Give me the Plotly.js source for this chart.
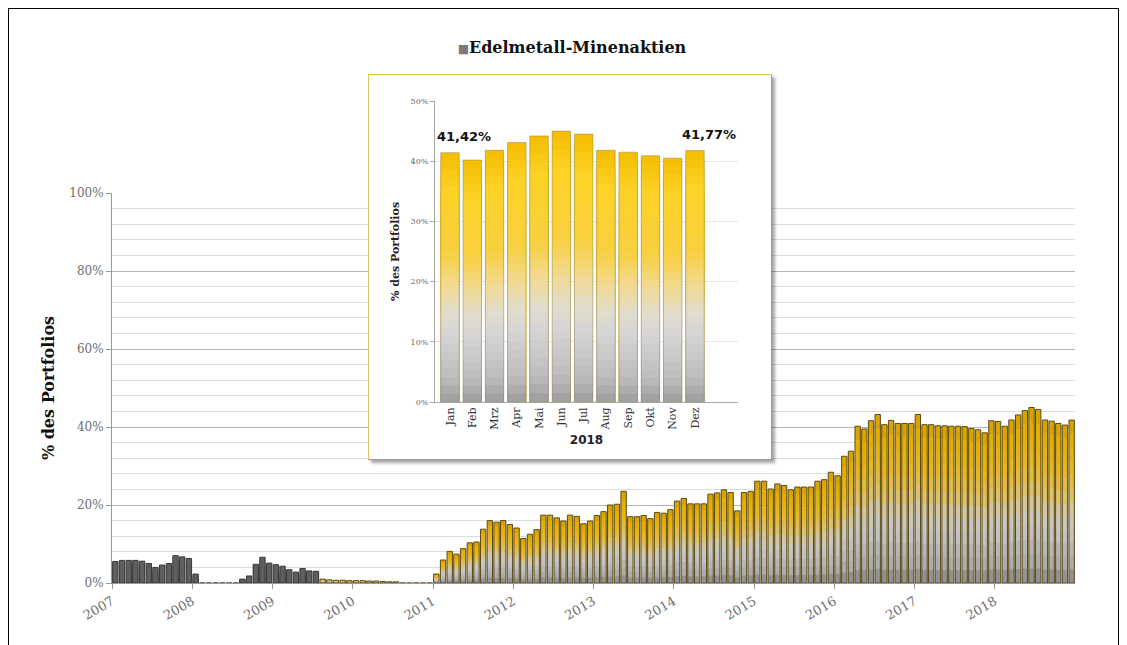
<!DOCTYPE html>
<html>
<head>
<meta charset="utf-8">
<script src="https://cdn.plot.ly/plotly-3.0.1.min.js"></script>
<style>
  html, body { margin:0; padding:0; background:#ffffff; }
  #main { position:absolute; left:0; top:0; width:1127px; height:645px; }
  #frame { position:absolute; left:8px; top:8px; width:1109px; height:700px; border:1px solid #000; pointer-events:none; }
  #inset { position:absolute; left:368px; top:74px; width:402px; height:384px; background:#fff;
           border-top:1px solid #e3c35a; border-left:1px solid #e3c35a; border-right:1px solid #9a9a9a; border-bottom:1px solid #9a9a9a;
           box-shadow:3px 3px 3px rgba(0,0,0,0.35); }
</style>
</head>
<body>
<div id="main"></div>
<div id="frame"></div>
<div id="inset"></div>
<script>
// ---------------- data (percent of portfolio, monthly) ----------------
const years = [2007, 2008, 2009, 2010, 2011, 2012, 2013, 2014, 2015, 2016, 2017, 2018];
const v2007 = [5.5, 5.8, 5.8, 5.8, 5.6, 5.0, 4.0, 4.6, 5.0, 7.0, 6.7, 6.3];
const v2008 = [2.3, 0, 0, 0, 0, 0, 0, 1.0, 1.8, 4.8, 6.6, 5.1];
const v2009 = [4.7, 4.3, 3.4, 2.8, 3.7, 3.1, 3.0, 1.0, 0.8, 0.7, 0.7, 0.6];
const v2010 = [0.6, 0.6, 0.5, 0.5, 0.4, 0.3, 0.3, 0, 0, 0, 0, 0];
const v2011 = [2.3, 5.9, 8.1, 7.4, 8.8, 10.3, 10.5, 13.8, 16.0, 15.6, 16.0, 15.0];
const v2012 = [14.1, 11.4, 12.5, 13.7, 17.4, 17.4, 16.7, 15.9, 17.4, 17.1, 15.2, 15.9];
const v2013 = [17.3, 18.3, 20.0, 20.2, 23.5, 17.0, 17.0, 17.3, 16.5, 18.1, 17.9, 18.8];
const v2014 = [21.0, 21.7, 20.3, 20.3, 20.3, 22.8, 23.1, 23.9, 23.2, 18.5, 23.2, 23.5];
const v2015 = [26.1, 26.1, 24.1, 25.4, 25.0, 23.9, 24.6, 24.6, 24.6, 26.1, 26.5, 28.4];
const v2016 = [27.5, 32.5, 33.8, 40.2, 39.5, 41.6, 43.2, 40.6, 41.7, 40.9, 40.9, 40.9];
const v2017 = [43.2, 40.6, 40.6, 40.3, 40.3, 40.2, 40.2, 40.1, 39.6, 39.3, 38.5, 41.6];
const v2018 = [41.42, 40.2, 41.8, 43.1, 44.2, 45.0, 44.5, 41.8, 41.5, 40.9, 40.5, 41.77];
const months2018 = ['Jan', 'Feb', 'Mrz', 'Apr', 'Mai', 'Jun', 'Jul', 'Aug', 'Sep', 'Okt', 'Nov', 'Dez'];
const seriesName = 'Edelmetall-Minenaktien';
const grayMonths = 31; // Jan 2007 .. Jul 2009 drawn in dark grey

// ---------------- helpers ----------------
function hexToRgb(h) { h = h.replace('#', ''); return [parseInt(h.substr(0,2),16), parseInt(h.substr(2,2),16), parseInt(h.substr(4,2),16)]; }
function colorAt(stops, f) {
  for (let i = 1; i < stops.length; i++) {
    if (f <= stops[i][0]) {
      const a = stops[i-1], b = stops[i];
      const t = (f - a[0]) / (b[0] - a[0]);
      const ca = hexToRgb(a[1]), cb = hexToRgb(b[1]);
      const c = ca.map((x, j) => Math.round(x + (cb[j] - x) * t));
      return 'rgb(' + c.join(',') + ')';
    }
  }
  return stops[stops.length-1][1];
}
function gradientBars(xs, ys, n, stops, width, perPointOverride) {
  const out = [];
  for (let k = 0; k < n; k++) {
    const frac = (n - k) / n;
    const col = colorAt(stops, (n - k - 0.5) / n);
    out.push({
      type: 'bar', x: xs, y: ys.map(v => v * frac), width: width,
      marker: { color: perPointOverride ? ys.map((v, i) => perPointOverride(i) || col) : col, line: { width: 0 } },
      hoverinfo: 'skip', showlegend: false
    });
  }
  return out;
}

// ---------------- main chart ----------------
const values = [].concat(v2007, v2008, v2009, v2010, v2011, v2012, v2013, v2014, v2015, v2016, v2017, v2018);
const xs = values.map((v, i) => i + 0.5);
const mainStops = [[0, '#7c7c7c'], [0.08, '#a6a6a6'], [0.3, '#c2c2c2'], [0.42, '#cdc8bc'], [0.55, '#dfbf62'], [0.7, '#e6b722'], [0.88, '#e4ae04'], [1, '#d29e00']];
const mainTraces = gradientBars(xs, values, 12, mainStops, 0.8, i => (i < grayMonths ? '#5f5f5f' : null));
mainTraces.push({
  type: 'bar', x: xs, y: values, width: 0.8, name: seriesName,
  marker: { color: 'rgba(0,0,0,0)', line: { color: values.map((v, i) => i < grayMonths ? '#3a3a3a' : '#5b4b1c'), width: 1 } },
  hoverinfo: 'skip', showlegend: false
});

const serif = 'DejaVu Serif, Liberation Serif, serif';
const mainLayout = {
  width: 1127, height: 645,
  margin: { l: 112, r: 52, t: 193, b: 62 },
  paper_bgcolor: 'rgba(0,0,0,0)', plot_bgcolor: '#ffffff',
  barmode: 'overlay', showlegend: false,
  title: {
    text: '<span style="color:#7a7a7a;font-size:12px">■</span><b>' + seriesName + '</b>',
    xref: 'container', yref: 'container', x: 0.5075, y: 1 - 47 / 645, xanchor: 'center', yanchor: 'middle',
    font: { family: serif, size: 16, color: '#111111' }
  },
  xaxis: {
    range: [0, 144], tickmode: 'array',
    tickvals: years.map((y, i) => i * 12), ticktext: years.map(String),
    tickangle: -30, ticks: 'outside', ticklen: 5, tickcolor: '#999999',
    showline: true, linecolor: '#999999', showgrid: false, zeroline: false,
    tickfont: { family: serif, size: 13, color: '#6e6e6e' }
  },
  yaxis: {
    range: [0, 100], tick0: 0, dtick: 20, ticksuffix: '%',
    ticks: 'outside', ticklen: 5, tickcolor: '#999999',
    showline: true, linecolor: '#999999', zeroline: false,
    showgrid: true, gridcolor: '#b5b5b5', gridwidth: 1,
    minor: { dtick: 4, showgrid: true, gridcolor: '#dddddd', gridwidth: 1 },
    tickfont: { family: serif, size: 12, color: '#6e6e6e' },
    title: { text: '<b>% des Portfolios</b>', font: { family: serif, size: 16, color: '#111111' }, standoff: 10 }
  }
};
Plotly.newPlot('main', mainTraces, mainLayout, { displayModeBar: false, staticPlot: true });

// ---------------- inset chart (2018) ----------------
const insetStops = [[0, '#9c9c9c'], [0.1, '#bdbdbd'], [0.27, '#d5d5d5'], [0.36, '#e2ddcc'], [0.47, '#f1d98f'], [0.6, '#f8d040'], [0.85, '#fdd226'], [1, '#f3bd00']];
const insetTraces = gradientBars(months2018, v2018, 30, insetStops, 0.83, null);
insetTraces.push({
  type: 'bar', x: months2018, y: v2018, width: 0.83, name: seriesName,
  marker: { color: 'rgba(0,0,0,0)', line: { color: 'rgba(140,120,60,0.45)', width: 1 } },
  hoverinfo: 'skip', showlegend: false
});
function fmtDe(v) { return v.toFixed(2).replace('.', ',') + '%'; }
const labelIdx = [0, 11];
const insetLayout = {
  width: 402, height: 384,
  margin: { l: 66, r: 33, t: 26, b: 57 },
  paper_bgcolor: '#ffffff', plot_bgcolor: '#ffffff',
  barmode: 'overlay', showlegend: false,
  xaxis: {
    type: 'category', tickangle: -90, ticks: '', showline: true, linecolor: '#a8a8a8',
    showgrid: false, zeroline: false,
    tickfont: { family: serif, size: 11, color: '#333333' },
    title: { text: '<b>2018</b>', font: { family: 'DejaVu Sans, sans-serif', size: 12, color: '#222222' }, standoff: 6 }
  },
  yaxis: {
    range: [0, 50], tick0: 0, dtick: 10, ticksuffix: '%',
    ticks: 'outside', ticklen: 4, tickcolor: '#a8a8a8',
    showline: true, linecolor: '#a8a8a8', zeroline: false,
    showgrid: true, gridcolor: '#e6e6e6',
    tickfont: { family: serif, size: 8, color: '#666666' },
    title: { text: '<b>% des Portfolios</b>', font: { family: serif, size: 11, color: '#222222' }, standoff: 8 }
  },
  annotations: labelIdx.map(i => ({
    x: months2018[i], y: v2018[i], xref: 'x', yref: 'y',
    text: '<b>' + fmtDe(v2018[i]) + '</b>', showarrow: false,
    xanchor: 'center', yanchor: 'middle', xshift: 14, yshift: 16,
    font: { family: 'DejaVu Sans, sans-serif', size: 13, color: '#111111' }
  }))
};
Plotly.newPlot('inset', insetTraces, insetLayout, { displayModeBar: false, staticPlot: true });
</script>
</body>
</html>
